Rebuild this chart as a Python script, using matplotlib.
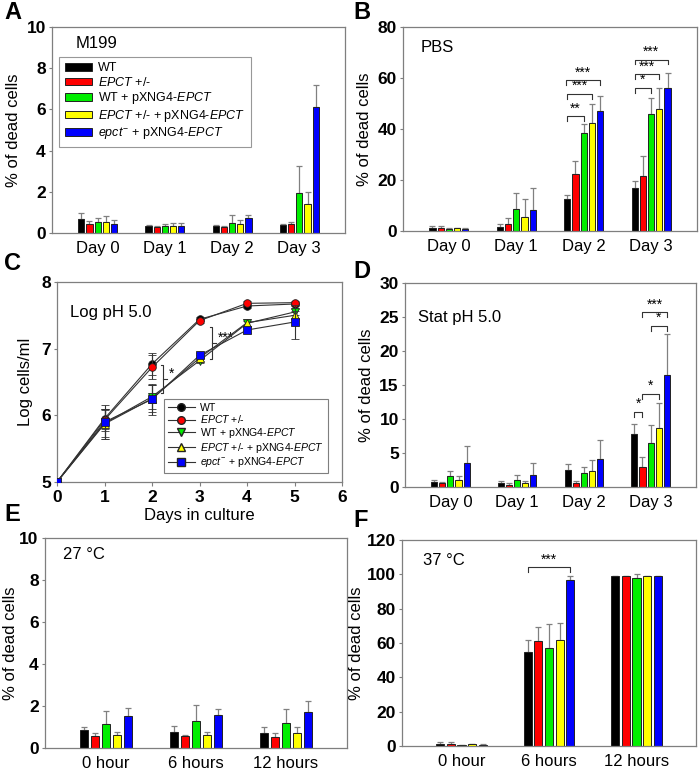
import numpy as np
import matplotlib
matplotlib.use("Agg")
import matplotlib.pyplot as plt
from matplotlib.patches import Patch
from matplotlib.lines import Line2D

plt.rcParams['font.family'] = ['Liberation Sans', 'DejaVu Sans']
plt.rcParams['mathtext.fontset'] = 'custom'
plt.rcParams['mathtext.rm'] = 'Liberation Sans'
plt.rcParams['mathtext.it'] = 'Liberation Sans:italic'
plt.rcParams['mathtext.bf'] = 'Liberation Sans:bold'

# strains / colours
strains = ['WT', r'$\it{EPCT}$ +/-', r'WT + pXNG4-$\it{EPCT}$',
           r'$\it{EPCT}$ +/- + pXNG4-$\it{EPCT}$', r'$\it{epct}^{-}$ + pXNG4-$\it{EPCT}$']
colors = ['#000000', '#ff0000', '#00ee00', '#ffff00', '#0000ff']

days = ['Day 0', 'Day 1', 'Day 2', 'Day 3']
hours = ['0 hour', '6 hours', '12 hours']

# A: M199 (rows = strain, cols = day)
m199 = [[0.70, 0.32, 0.33, 0.37],
        [0.45, 0.27, 0.28, 0.45],
        [0.55, 0.32, 0.48, 1.95],
        [0.55, 0.35, 0.45, 1.42],
        [0.45, 0.35, 0.75, 6.10]]
m199_err = [[0.26, 0.07, 0.05, 0.08],
            [0.15, 0.05, 0.05, 0.10],
            [0.18, 0.10, 0.40, 1.32],
            [0.27, 0.12, 0.20, 0.55],
            [0.20, 0.12, 0.12, 1.08]]

# B: PBS
pbs = [[1.3, 1.7, 12.5, 16.8],
       [1.0, 2.7, 22.3, 21.6],
       [0.8, 8.5, 38.6, 45.8],
       [1.0, 5.6, 42.4, 47.8],
       [0.9, 8.4, 47.0, 56.0]]
pbs_err = [[0.7, 1.0, 1.6, 3.0],
           [1.0, 2.3, 5.2, 8.0],
           [0.2, 6.5, 3.2, 6.5],
           [0.3, 6.8, 7.5, 8.2],
           [0.4, 8.6, 5.9, 5.9]]

# C: Log pH 5.0 growth
culture_days = [0, 1, 2, 3, 4, 5]
growth = [[5.0, 5.95, 6.77, 7.44, 7.64, 7.67],
          [5.0, 5.93, 6.72, 7.42, 7.68, 7.69],
          [5.0, 5.88, 6.28, 6.82, 7.38, 7.55],
          [5.0, 5.87, 6.25, 6.86, 7.39, 7.50],
          [5.0, 5.90, 6.24, 6.90, 7.28, 7.40]]
growth_err = [[0.0, 0.15, 0.16, 0.03, 0.03, 0.03],
              [0.0, 0.17, 0.18, 0.03, 0.03, 0.03],
              [0.0, 0.20, 0.18, 0.04, 0.04, 0.04],
              [0.0, 0.22, 0.20, 0.04, 0.05, 0.06],
              [0.0, 0.25, 0.23, 0.04, 0.04, 0.25]]
growth_markers = ['o', 'o', 'v', '^', 's']

# D: Stat pH 5.0
stat = [[0.80, 0.65, 2.50, 7.8],
        [0.60, 0.35, 0.60, 3.0],
        [1.55, 1.00, 2.10, 6.4],
        [1.00, 0.55, 2.30, 8.65],
        [3.50, 1.80, 4.15, 16.4]]
stat_err = [[0.25, 0.20, 0.85, 1.5],
            [0.15, 0.20, 0.25, 1.4],
            [0.80, 0.70, 0.80, 2.65],
            [0.55, 0.30, 1.70, 3.7],
            [2.50, 1.70, 2.70, 6.1]]

# E: 27 C
t27 = [[0.88, 0.77, 0.70],
       [0.57, 0.55, 0.53],
       [1.13, 1.28, 1.20],
       [0.62, 0.62, 0.70],
       [1.53, 1.57, 1.73]]
t27_err = [[0.10, 0.27, 0.30],
           [0.13, 0.07, 0.20],
           [0.64, 0.77, 0.68],
           [0.13, 0.13, 0.28],
           [0.38, 0.28, 0.52]]

# F: 37 C
t37 = [[1.3, 54.5, 99.0],
       [1.0, 61.0, 99.0],
       [0.6, 57.0, 97.7],
       [0.9, 61.8, 99.0],
       [0.8, 96.8, 99.0]]
t37_err = [[0.8, 7.0, 0.3],
           [1.2, 8.5, 0.3],
           [0.2, 14.0, 2.7],
           [0.3, 9.7, 0.3],
           [0.2, 2.0, 0.3]]

W, H = 699, 772
fig = plt.figure(figsize=(W / 100, H / 100), dpi=100)

def add_ax(l, r, t, b):
    return fig.add_axes([l / W, 1 - b / H, (r - l) / W, (b - t) / H])

SLOT = 0.122
BW = 0.092
SPINE = '#7f7f7f'
TICK_FS = 12.5
LABEL_FS = 12

def style(ax):
    for s in ax.spines.values():
        s.set_color(SPINE)
        s.set_linewidth(0.9)
    ax.tick_params(axis='y', length=2.5, color=SPINE, labelsize=TICK_FS, pad=2)
    for lab in ax.get_yticklabels():
        lab.set_fontweight('bold')

def bar_panel(ax, vals, errs, cats, ymax, ystep, lpad=4):
    n = len(cats)
    x = np.arange(n)
    for i in range(5):
        pos = x + (i - 2) * SLOT
        ax.bar(pos, vals[i], BW, color=colors[i], edgecolor='#222222', linewidth=0.7, zorder=2)
        ax.errorbar(pos, vals[i], yerr=[np.zeros(n), errs[i]], fmt='none',
                    ecolor='#808080', elinewidth=0.9, capsize=2.5, capthick=0.9, zorder=1)
    ax.set_xlim(-0.68, n - 1 + 0.68)
    ax.set_ylim(0, ymax)
    ax.set_yticks(np.arange(0, ymax + 0.1, ystep))
    ax.set_xticks(x)
    ax.set_xticklabels(cats, fontsize=LABEL_FS)
    ax.tick_params(axis='x', length=0, pad=6)
    ax.set_ylabel('% of dead cells', fontsize=LABEL_FS, labelpad=lpad)
    style(ax)

def bracket(ax, g, i, j, y, h, txt):
    x1 = g + (i - 2) * SLOT
    x2 = g + (j - 2) * SLOT
    ax.plot([x1, x1, x2, x2], [y - h, y, y, y - h], color='#333333', lw=0.8, zorder=3)
    ax.text((x1 + x2) / 2, y + h * 0.2, txt, ha='center', va='bottom', fontsize=10, zorder=3)

# A
axA = add_ax(52, 345, 27, 233)
bar_panel(axA, m199, m199_err, days, 10, 2)
axA.text(0.08, 0.92, 'M199', transform=axA.transAxes, fontsize=LABEL_FS, va='center')
handles = [Patch(facecolor=c, edgecolor='#222222', linewidth=0.7) for c in colors]
legA = axA.legend(handles, strains, loc='upper left', bbox_to_anchor=(0.024, 0.855),
                  fontsize=9, handlelength=2.2, handleheight=0.5, labelspacing=0.12,
                  fancybox=False, edgecolor=SPINE, borderpad=0.45, handletextpad=0.5,
                  borderaxespad=0)
legA.get_frame().set_linewidth(0.8)

# B
axB = add_ax(403, 697, 27, 231)
bar_panel(axB, pbs, pbs_err, days, 80, 20)
axB.text(0.06, 0.90, 'PBS', transform=axB.transAxes, fontsize=LABEL_FS, va='center')
bracket(axB, 2, 0, 2, 45.0, 1.8, '**')
bracket(axB, 2, 0, 3, 53.7, 1.8, '***')
bracket(axB, 2, -0.15, 4, 59.1, 1.8, '***')
bracket(axB, 3, 0, 2, 56.1, 1.8, '*')
bracket(axB, 3, 0, 3, 61.4, 1.8, '***')
bracket(axB, 3, 0, 4, 67.2, 1.8, '***')

# C
axC = add_ax(57, 342, 282, 482)
for i in range(5):
    axC.errorbar(culture_days, growth[i], yerr=growth_err[i], color='#333333', lw=0.8,
                 marker=growth_markers[i], markersize=5.5, markerfacecolor=colors[i],
                 markeredgecolor='#222222', markeredgewidth=0.6, ecolor='#333333',
                 elinewidth=0.8, capsize=3, capthick=0.8, zorder=3 + i)
axC.set_xlim(0, 6)
axC.set_ylim(5, 8)
axC.set_xticks(range(7))
axC.set_yticks([5, 6, 7, 8])
axC.tick_params(axis='x', length=3, color=SPINE, labelsize=TICK_FS, pad=3)
for lab in axC.get_xticklabels():
    lab.set_fontweight('bold')
axC.set_xlabel('Days in culture', fontsize=LABEL_FS, labelpad=2)
axC.set_ylabel('Log cells/ml', fontsize=LABEL_FS, labelpad=6)
style(axC)
axC.text(0.045, 0.85, 'Log pH 5.0', transform=axC.transAxes, fontsize=LABEL_FS, va='center')
# significance brackets
for xb, y1, y2, txt in [(2.24, 6.33, 6.76, '*'), (3.27, 6.84, 7.33, '***')]:
    ym = (y1 + y2) / 2
    axC.plot([xb - 0.05, xb, xb, xb - 0.05], [y1, y1, y2, y2], color='#333333', lw=0.8)
    axC.plot([xb, xb + 0.07], [ym, ym], color='#333333', lw=0.8)
    axC.text(xb + 0.12, ym + 0.08, txt, fontsize=10, va='center', ha='left')
hC = [Line2D([0], [0], color='#333333', lw=0.8, marker=m, markerfacecolor=c,
             markeredgecolor='#222222', markersize=5.5) for m, c in zip(growth_markers, colors)]
legC = axC.legend(hC, strains, loc='lower left', bbox_to_anchor=(0.375, 0.045),
                  fontsize=7.6, handlelength=2.6, labelspacing=0.06, fancybox=False,
                  edgecolor=SPINE, borderpad=0.35, handletextpad=0.5, framealpha=1,
                  borderaxespad=0)
legC.get_frame().set_linewidth(0.8)

# D
axD = add_ax(405, 696, 283, 487)
bar_panel(axD, stat, stat_err, days, 30, 5)
axD.text(0.045, 0.83, 'Stat pH 5.0', transform=axD.transAxes, fontsize=LABEL_FS, va='center')
bracket(axD, 3, 0, 1, 11.0, 0.7, '*')
bracket(axD, 3, 1, 3, 13.7, 0.7, '*')
bracket(axD, 3, 2, 4, 23.7, 0.7, '*')
bracket(axD, 3, 1, 4, 25.7, 0.7, '***')

# E
axE = add_ax(45, 347, 538, 748)
bar_panel(axE, t27, t27_err, hours, 10, 2, lpad=1)
axE.text(0.06, 0.92, '27 °C', transform=axE.transAxes, fontsize=LABEL_FS, va='center')

# F
axF = add_ax(402, 696, 540, 746)
bar_panel(axF, t37, t37_err, hours, 120, 20, lpad=2)
axF.text(0.07, 0.90, '37 °C', transform=axF.transAxes, fontsize=LABEL_FS, va='center')
bracket(axF, 1, 0, 4, 104, 2.6, '***')

# panel letters
for lbl, x, y in [('A', 0.006, 0.999), ('B', 0.506, 0.999), ('C', 0.006, 0.674),
                  ('D', 0.506, 0.663), ('E', 0.006, 0.349), ('F', 0.506, 0.341)]:
    fig.text(x, y, lbl, fontsize=17, fontweight='bold', va='top', ha='left')

fig.savefig('out.png', dpi=100)
